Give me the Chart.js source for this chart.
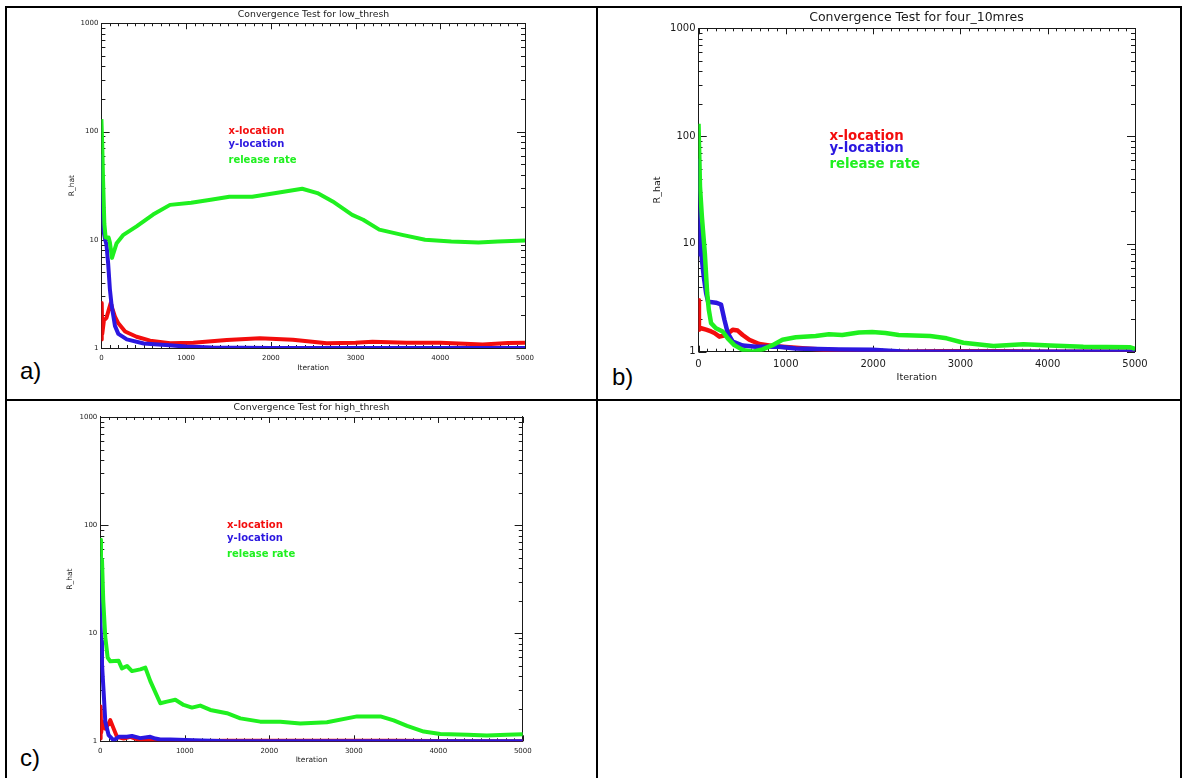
<!DOCTYPE html>
<html>
<head>
<meta charset="utf-8">
<title>Convergence tests</title>
<script src="https://cdn.jsdelivr.net/npm/chart.js@4.4.1/dist/chart.umd.min.js"></script>
<style>
  html, body { margin: 0; padding: 0; background: #fff; overflow: hidden; }
  body { width: 1183px; height: 778px; position: relative; font-family: "Liberation Sans", Arial, sans-serif; }
  .rule { position: absolute; background: #000; }
  .panel { position: absolute; }
  .tag { position: absolute; font-size: 24px; line-height: 24px; color: #000; }
</style>
</head>
<body>
<div class="rule" style="left:5px;top:6px;width:1177px;height:2px"></div>
<div class="rule" style="left:5px;top:6px;width:2px;height:772px"></div>
<div class="rule" style="left:1180px;top:6px;width:2px;height:772px"></div>
<div class="rule" style="left:596px;top:6px;width:2px;height:772px"></div>
<div class="rule" style="left:5px;top:399px;width:1177px;height:2px"></div>

<div class="panel" style="left:60px;top:0;width:507px;height:378px"><canvas id="chartA"></canvas></div>
<div class="panel" style="left:650px;top:0;width:533px;height:386px"><canvas id="chartB"></canvas></div>
<div class="panel" style="left:60px;top:400px;width:503px;height:370px"><canvas id="chartC"></canvas></div>

<div class="tag" style="left:20px;top:359px">a)</div>
<div class="tag" style="left:612px;top:365px">b)</div>
<div class="tag" style="left:20px;top:746px">c)</div>

<script>
// ===== Data (iteration, R_hat) =====
const X_TICKS = [0, 1000, 2000, 3000, 4000, 5000];
const Y_TICKS = [1, 10, 100, 1000];
const SERIES_LABELS = ['x-location', 'y-location', 'release rate'];
const NOTE_ITER = 1500;
const NOTE_LEVELS = [100, 76, 54];

// a) low_thresh
const aRedIter = [0, 4, 10, 30, 60, 90, 110, 130, 160, 200, 280, 415, 575, 810, 1085, 1480, 1870, 2260, 2660, 3000, 3200, 3600, 4000, 4500, 4800, 5000];
const aRedVal  = [1.2, 2.6, 1.35, 1.8, 1.9, 2.3, 2.6, 2.3, 1.95, 1.69, 1.42, 1.27, 1.17, 1.105, 1.12, 1.186, 1.23, 1.19, 1.105, 1.12, 1.14, 1.12, 1.12, 1.08, 1.11, 1.12];
const aBlueIter = [0, 5, 15, 25, 45, 60, 80, 100, 120, 160, 200, 300, 500, 800, 1000, 1300, 2000, 5000];
const aBlueVal  = [59, 28, 20, 12, 10, 9, 6, 3.5, 2.5, 1.6, 1.35, 1.2, 1.1, 1.06, 1.03, 1.01, 1.0, 1.0];
const aGreenIter = [0, 10, 20, 35, 50, 85, 100, 125, 180, 260, 415, 610, 810, 1060, 1290, 1510, 1780, 2060, 2370, 2550, 2730, 2960, 3090, 3280, 3550, 3820, 4130, 4450, 4680, 5000];
const aGreenVal  = [130, 75, 35, 14, 10.5, 10.5, 9.5, 6.8, 9.3, 11.1, 13.3, 17.1, 21, 22, 23.4, 25, 25, 27, 29.6, 27, 22.6, 17, 15.3, 12.4, 11.1, 10, 9.66, 9.45, 9.66, 9.86];

// b) four_10mres
const bRedIter = [0, 5, 30, 87, 144, 182, 240, 316, 392, 449, 506, 582, 696, 848, 1038, 1228, 1456, 1900, 2300, 2800, 3500, 4000, 5000];
const bRedVal  = [3.0, 1.6, 1.65, 1.6, 1.54, 1.49, 1.38, 1.43, 1.6, 1.57, 1.43, 1.29, 1.18, 1.13, 1.10, 1.07, 1.04, 1.01, 1.0, 1.01, 1.01, 1.0, 1.0];
const bBlueIter = [0, 4, 8, 14, 25, 40, 60, 87, 110, 200, 258, 297, 335, 392, 506, 658, 924, 1114, 1608, 1989, 2369, 5000];
const bBlueVal  = [59, 19, 30, 8, 12, 7, 5, 3.5, 2.9, 2.85, 2.74, 1.98, 1.49, 1.24, 1.14, 1.11, 1.11, 1.07, 1.05, 1.04, 1.0, 1.0];
const bGreenIter = [0, 17, 39, 73, 99, 118, 144, 200, 277, 335, 410, 506, 620, 734, 848, 962, 1114, 1342, 1494, 1646, 1837, 1989, 2141, 2293, 2652, 2843, 3034, 3378, 3722, 4027, 4408, 4946, 5000];
const bGreenVal  = [130, 34, 17.8, 8.1, 3.52, 2.45, 1.84, 1.65, 1.54, 1.33, 1.15, 1.04, 1.0, 1.05, 1.15, 1.29, 1.36, 1.40, 1.45, 1.43, 1.51, 1.52, 1.49, 1.43, 1.40, 1.33, 1.21, 1.13, 1.17, 1.14, 1.11, 1.10, 1.06];

// c) high_thresh
const cRedIter = [0, 4, 10, 28, 59, 99, 118, 158, 197, 276, 355, 473, 631, 1000, 1500, 2500, 3500, 4400, 5000];
const cRedVal  = [1.06, 2.1, 1.2, 1.52, 1.31, 1.46, 1.57, 1.31, 1.1, 1.06, 1.1, 1.02, 1.01, 1.0, 1.01, 1.01, 1.01, 1.0, 1.0];
const cBlueIter = [0, 3, 10, 20, 39, 59, 99, 158, 217, 316, 375, 473, 592, 651, 710, 828, 1104, 1499, 5000];
const cBlueVal  = [49, 12, 8.5, 5.2, 2.9, 1.52, 1.14, 1.02, 1.1, 1.1, 1.12, 1.07, 1.1, 1.06, 1.04, 1.04, 1.02, 1.0, 1.0];
const cGreenIter = [0, 8, 20, 35, 59, 87, 118, 217, 256, 316, 375, 473, 533, 592, 710, 789, 888, 986, 1085, 1183, 1302, 1499, 1657, 1893, 2130, 2367, 2682, 3039, 3315, 3472, 3630, 3827, 4024, 4346, 4575, 4811, 5000];
const cGreenVal  = [73, 40, 48, 20, 9.2, 5.95, 5.5, 5.55, 4.73, 4.97, 4.46, 4.63, 4.8, 3.6, 2.25, 2.33, 2.42, 2.17, 2.05, 2.14, 1.95, 1.82, 1.63, 1.52, 1.52, 1.46, 1.50, 1.70, 1.70, 1.56, 1.39, 1.23, 1.17, 1.15, 1.13, 1.15, 1.16];

// ===== Styling =====
const INK = '#1a1a1a';
const FONT = '"DejaVu Sans", Verdana, sans-serif';
const RED = '#f30d0d';
const BLUE = '#2b17e0';
const GREEN = '#1ff01f';

function toPoints(iters, vals) {
    return iters.map((x, i) => ({ x, y: vals[i] }));
}

// IDL-style inward ticks on all four sides, plus the top frame line
const idlFrame = {
    id: 'idlFrame',
    beforeDatasetsDraw(chart, args, opts) {
        const { ctx, chartArea: a, scales: { x, y } } = chart;
        ctx.save();
        ctx.strokeStyle = INK;
        ctx.lineWidth = 1;
        ctx.beginPath();
        const top = Math.round(a.top) + 0.5;
        ctx.moveTo(a.left, top);
        ctx.lineTo(a.right, top);
        for (let v = 0; v <= 5000; v += 100) {
            const px = Math.round(x.getPixelForValue(v)) + 0.5;
            const len = v % 1000 === 0 ? opts.xMajor : opts.xMinor;
            ctx.moveTo(px, a.top); ctx.lineTo(px, a.top + len);
            ctx.moveTo(px, a.bottom); ctx.lineTo(px, a.bottom - len);
        }
        [1, 10, 100].forEach(d => {
            for (let m = 1; m <= 10; m++) {
                const py = Math.round(y.getPixelForValue(d * m)) + 0.5;
                const len = (m === 1 || m === 10) ? opts.yMajor : opts.yMinor;
                ctx.moveTo(a.left, py); ctx.lineTo(a.left + len, py);
                ctx.moveTo(a.right, py); ctx.lineTo(a.right - len, py);
            }
        });
        ctx.stroke();
        ctx.restore();
    }
};

// coloured series names written into the plot at data coordinates
const seriesNotes = {
    id: 'seriesNotes',
    afterDatasetsDraw(chart, args, opts) {
        const { ctx, scales: { x, y } } = chart;
        ctx.save();
        ctx.font = `bold ${opts.size}px ${FONT}`;
        ctx.textAlign = 'left';
        ctx.textBaseline = 'middle';
        chart.data.datasets.forEach((ds, i) => {
            ctx.fillStyle = ds.borderColor;
            ctx.fillText(ds.label, x.getPixelForValue(NOTE_ITER), y.getPixelForValue(NOTE_LEVELS[i]));
        });
        ctx.restore();
    }
};

function buildPanel(id, g, series) {
    const colors = [RED, BLUE, GREEN];
    const datasets = series.map((s, i) => ({
        label: SERIES_LABELS[i],
        data: toPoints(s[0], s[1]),
        borderColor: colors[i],
        backgroundColor: colors[i],
        borderWidth: g.lineW,
        pointRadius: 0,
        tension: 0,
        fill: false,
        borderJoinStyle: 'round',
        order: 2 - i
    }));

    return new Chart(document.getElementById(id), {
        type: 'line',
        data: { datasets },
        options: {
            responsive: true,
            maintainAspectRatio: false,
            animation: false,
            events: [],
            layout: { padding: 0 },
            plugins: {
                legend: { display: false },
                tooltip: { enabled: false },
                title: {
                    display: true,
                    text: g.title,
                    color: INK,
                    font: { family: FONT, size: g.titleSize, weight: 'normal', lineHeight: 1.2 },
                    padding: { top: g.titleTop, bottom: g.titleBottom }
                },
                idlFrame: { xMajor: 6, xMinor: 3, yMajor: 8, yMinor: 4 },
                seriesNotes: { size: g.noteSize }
            },
            scales: {
                x: {
                    type: 'linear',
                    position: 'bottom',
                    min: 0,
                    max: 5000,
                    afterBuildTicks: sc => { sc.ticks = X_TICKS.map(v => ({ value: v })); },
                    afterFit: sc => { sc.height = g.xH; sc.paddingLeft = 0; sc.paddingRight = 0; },
                    ticks: {
                        color: INK,
                        font: { family: FONT, size: g.tickSize, lineHeight: 1.2 },
                        padding: g.xTickPad,
                        maxRotation: 0,
                        callback: v => String(v)
                    },
                    grid: { display: false, drawTicks: false },
                    border: { display: true, color: INK, width: 1 },
                    title: {
                        display: true,
                        text: 'Iteration',
                        color: INK,
                        font: { family: FONT, size: g.axisTitleSize, lineHeight: 1.2 },
                        padding: { top: 0, bottom: g.xTitlePad }
                    }
                },
                y: {
                    type: 'logarithmic',
                    position: 'left',
                    min: 1,
                    max: 1000,
                    afterBuildTicks: sc => { sc.ticks = Y_TICKS.map(v => ({ value: v })); },
                    afterFit: sc => { sc.width = g.yW; sc.paddingTop = 0; sc.paddingBottom = 0; },
                    ticks: {
                        color: INK,
                        font: { family: FONT, size: g.tickSize, lineHeight: 1.2 },
                        padding: 3,
                        callback: v => String(v)
                    },
                    grid: { display: false, drawTicks: false },
                    border: { display: true, color: INK, width: 1 },
                    title: {
                        display: true,
                        text: 'R_hat',
                        color: INK,
                        font: { family: FONT, size: g.axisTitleSize, lineHeight: 1.2 },
                        padding: { top: g.yTitlePad, bottom: 0 }
                    }
                },
                y2: {
                    type: 'logarithmic',
                    position: 'right',
                    min: 1,
                    max: 1000,
                    afterFit: sc => { sc.width = g.y2W; sc.paddingTop = 0; sc.paddingBottom = 0; },
                    ticks: { display: false },
                    grid: { display: false, drawTicks: false },
                    border: { display: true, color: INK, width: 1 }
                }
            }
        },
        plugins: [idlFrame, seriesNotes]
    });
}

buildPanel('chartA', {
    title: 'Convergence Test for low_thresh', titleSize: 9.3, titleTop: 9.4, titleBottom: 2.7,
    yW: 41.4, y2W: 42, xH: 30, tickSize: 7, xTickPad: 6, axisTitleSize: 7.5, xTitlePad: 5.2, yTitlePad: 7.5,
    noteSize: 10, lineW: 4
}, [[aRedIter, aRedVal], [aBlueIter, aBlueVal], [aGreenIter, aGreenVal]]);

buildPanel('chartB', {
    title: 'Convergence Test for four_10mres', titleSize: 12.5, titleTop: 9.8, titleBottom: 3.5,
    yW: 48.5, y2W: 48, xH: 34.3, tickSize: 10, xTickPad: 6.3, axisTitleSize: 9.5, xTitlePad: 2.6, yTitlePad: 2.3,
    noteSize: 13.3, lineW: 4.5
}, [[bRedIter, bRedVal], [bBlueIter, bBlueVal], [bGreenIter, bGreenVal]]);

buildPanel('chartC', {
    title: 'Convergence Test for high_thresh', titleSize: 9.3, titleTop: 2.4, titleBottom: 3.4,
    yW: 40.3, y2W: 40.2, xH: 28.7, tickSize: 7, xTickPad: 5.5, axisTitleSize: 7.5, xTitlePad: 5.2, yTitlePad: 5.5,
    noteSize: 10, lineW: 4
}, [[cRedIter, cRedVal], [cBlueIter, cBlueVal], [cGreenIter, cGreenVal]]);
</script>
</body>
</html>
